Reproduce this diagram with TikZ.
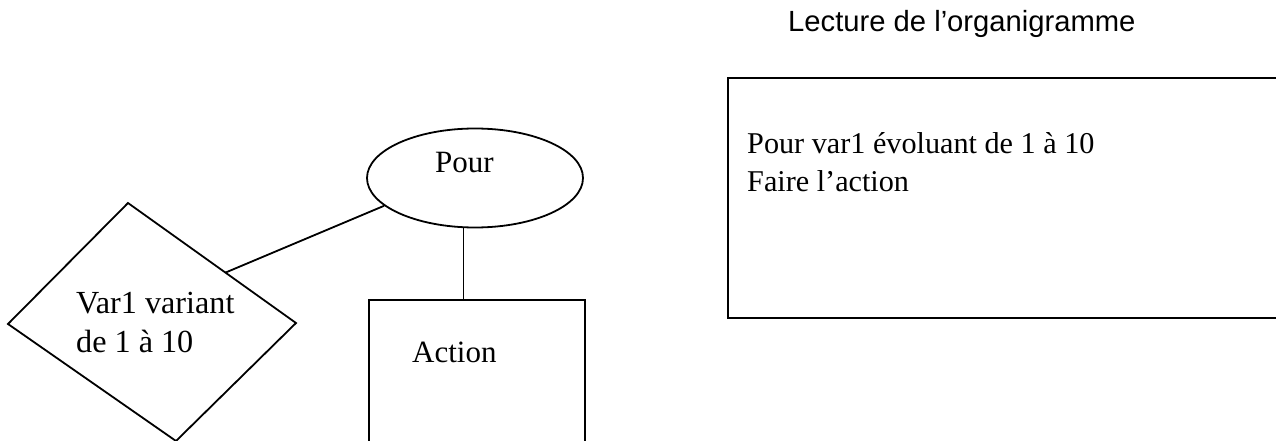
\documentclass[tikz,border=0pt]{standalone}
\usepackage{fontspec}
\setmainfont{Liberation Serif}
\newfontfamily\titlefont{Liberation Sans}
\usetikzlibrary{shapes.geometric,calc}
\tikzset{
  shp/.style={draw, line width=1.8pt},
  lnk/.style={line width=1.8pt},
  txt/.style={inner sep=0pt, anchor=base west, align=left, font=\fontsize{30.2}{38}\selectfont},
  ttl/.style={inner sep=0pt, anchor=base west, font=\titlefont\fontsize{29.2}{34}\selectfont}
}

\begin{document}
\begin{tikzpicture}[x=1pt, y=-1pt]
  \useasboundingbox (0,0) rectangle (1276,441);
  \clip (0,0) rectangle (1276,441);
  % organigramme
  \node[shp, ellipse, minimum width=216pt, minimum height=99pt] (pour) at (475,178) {};
  \node[txt, font=\fontsize{31}{38}\selectfont] (pourtxt) at (435,172) {Pour};
  \coordinate (vl) at (8,324);
  \coordinate (vt) at (128,203);
  \coordinate (vr) at (296,323);
  \coordinate (vb) at (176,441);
  \draw[shp] (vl) -- (vt) -- (vr) -- (vb) -- cycle;
  \coordinate (vlink) at ($(vt)!0.58!(vr)$);
  \node[txt, font=\fontsize{32.2}{39}\selectfont] (vartxt) at (76,352) {Var1 variant\\de 1 à 10};
  \node[shp, anchor=north west, minimum width=216pt, minimum height=200pt] (action) at (368,299) {};
  \node[txt, font=\fontsize{31}{38}\selectfont] (actiontxt) at (412,362) {Action};
  \draw[lnk] (vlink) -- (pour.197);
  \draw[lnk] (pour.257) -- (pour.257 |- action.north);
  % lecture
  \node[ttl] (titre) at (788,32) {Lecture de l’organigramme};
  \node[shp, anchor=north west, minimum width=600pt, minimum height=240pt] (lecture) at (727,77) {};
  \node[txt] (lecturetxt) at (747,191) {Pour var1 évoluant de 1 à 10\\Faire l’action};
\end{tikzpicture}
\end{document}
